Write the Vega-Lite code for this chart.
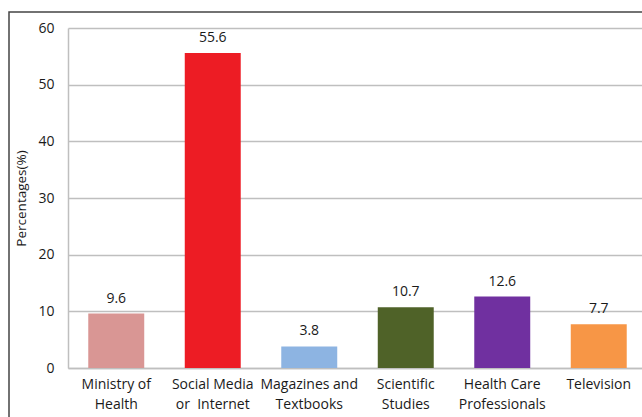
{
  "$schema": "https://vega.github.io/schema/vega-lite/v6.json",
  "autosize": {"type": "none"},
  "padding": {"left": 9, "top": 12, "right": 0, "bottom": 0},
  "width": 640,
  "height": 420,
  "background": "white",
  "config": {
    "view": {"stroke": "#444444", "strokeWidth": 1.5},
    "font": "Open Sans"
  },
  "data": {
    "values": [
      {"source": "Ministry of|Health", "pct": 9.6, "colour": "#D99694"},
      {"source": "Social Media|or\u00a0 Internet", "pct": 55.6, "colour": "#ED1C24"},
      {"source": "Magazines and|Textbooks", "pct": 3.8, "colour": "#8DB4E2"},
      {"source": "Scientific|Studies", "pct": 10.7, "colour": "#4F6228"},
      {"source": "Health Care|Professionals", "pct": 12.6, "colour": "#7030A0"},
      {"source": "Television", "pct": 7.7, "colour": "#F79646"}
    ]
  },
  "encoding": {
    "x": {
      "field": "source",
      "type": "nominal",
      "sort": null,
      "scale": {"range": [59, 638], "paddingInner": 0.42, "paddingOuter": 0.21},
      "axis": {
        "title": null,
        "offset": -64,
        "labelAngle": 0,
        "labelExpr": "split(datum.label, '|')",
        "labelFontSize": 14,
        "labelColor": "#1a1a1a",
        "labelPadding": 9,
        "labelLineHeight": 20,
        "labelBaseline": "top",
        "ticks": false,
        "domainColor": "#BFBFBF",
        "domainWidth": 1.5
      }
    },
    "y": {
      "field": "pct",
      "type": "quantitative",
      "scale": {"domain": [0, 60], "range": [356, 16], "nice": false},
      "axis": {
        "title": "Percentages(%)",
        "offset": -59,
        "values": [0, 10, 20, 30, 40, 50, 60],
        "labelFontSize": 14,
        "labelColor": "#1a1a1a",
        "labelPadding": 14,
        "ticks": false,
        "domainColor": "#BFBFBF",
        "domainWidth": 1.5,
        "gridColor": "#BFBFBF",
        "gridWidth": 1.5,
        "titleFontSize": 13.5,
        "titleFontWeight": "normal",
        "titleColor": "#1a1a1a",
        "titlePadding": 9
      }
    }
  },
  "layer": [
    {
      "mark": {"type": "bar"},
      "encoding": {
        "color": {"field": "colour", "type": "nominal", "scale": null}
      }
    },
    {
      "mark": {"type": "text", "baseline": "bottom", "dy": -8, "fontSize": 14, "color": "#1a1a1a"},
      "encoding": {
        "text": {"field": "pct", "type": "quantitative", "format": ".1f"}
      }
    }
  ]
}
